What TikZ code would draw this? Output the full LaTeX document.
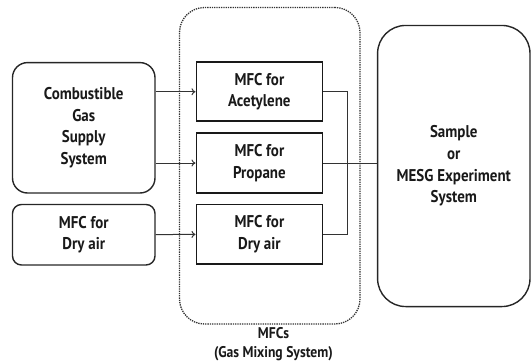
\documentclass[tikz,border=0pt]{standalone}
\usepackage{fontspec}
\setmainfont[FakeStretch=0.88]{PT Sans}
\usetikzlibrary{arrows.meta}
\begin{document}
\begin{tikzpicture}[x=1pt,y=-1pt,
  font=\fontsize{17}{21.7}\selectfont\bfseries,
  txt/.style={align=center,inner sep=0pt,text=black!90},
  leftbox/.style={draw=black!85,line width=1.4pt,txt},
  mfcbox/.style={draw=black!90,line width=1.8pt,txt,minimum width=126pt},
  conn/.style={draw=black!80,line width=1pt},
  arr/.style={conn,-{To[length=4pt,width=7pt]}}]
\useasboundingbox (0,0) rectangle (531,362);
\node[draw=black!80,densely dotted,line width=1.3pt,rounded corners=25pt,minimum width=180.5pt,minimum height=316.5pt] (group) at (269.75,165.75) {};
\node[leftbox,rounded corners=15pt,minimum width=142.5pt,minimum height=130.4pt] (comb) at (83.75,127.8) {Combustible\\Gas\\Supply\\System};
\node[leftbox,rounded corners=9pt,minimum width=142.5pt,minimum height=60.5pt] (dryin) at (83.75,234.75) {MFC for\\Dry air};
\node[mfcbox,minimum height=58.9pt] (ace) at (259.4,91.75) {MFC for\\Acetylene};
\node[mfcbox,minimum height=60pt] (prop) at (259.4,163) {MFC for\\Propane};
\node[mfcbox,minimum height=59.5pt] (dry) at (259.4,234.25) {MFC for\\Dry air};
\node[leftbox,rounded corners=28pt,minimum width=152.4pt,minimum height=281.1pt] (sample) at (453.8,166) {Sample\\or\\MESG Experiment\\System};
\node[txt,anchor=south,font=\fontsize{15.5}{19}\selectfont\bfseries] (lbl) at (273.5,361) {MFCs\\(Gas Mixing System)};
\draw[arr] (comb.east |- ace) -- (ace);
\draw[arr] (comb.east |- prop) -- (prop);
\draw[arr] (dryin) -- (dry);
\coordinate (jx) at (347.8,0);
\draw[conn] (ace.east) -- (jx |- ace.east) |- (dry.east);
\draw[conn] (prop.east) -- (sample.west |- prop.east);
\end{tikzpicture}
\end{document}
